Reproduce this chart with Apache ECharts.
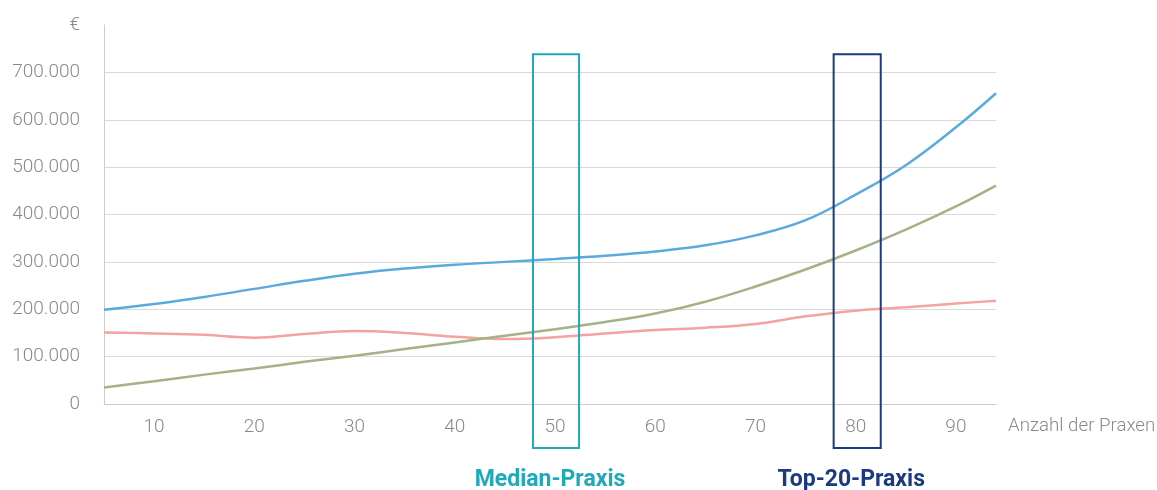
<!DOCTYPE html>
<html>
<head>
<meta charset="utf-8">
<script src="https://cdn.jsdelivr.net/npm/echarts@6/dist/echarts.min.js"></script>
<style>
html,body{margin:0;padding:0;background:#fff;}
#c{width:1157px;height:490px;}
</style>
</head>
<body>
<div id="c"></div>
<script>
// Anzahl der Praxen (x values)
const xValues = [5, 10, 15, 20, 25, 30, 35, 40, 45, 50, 55, 60, 65, 70, 75, 80, 85, 90, 94];
// Series values (€)
const blueValues  = [199000, 211000, 226000, 243000, 260000, 275000, 286000, 294000, 300000, 306000, 313000, 322000, 335000, 356000, 388000, 442000, 504000, 584000, 656000];
const greenValues = [35000, 48000, 62000, 75000, 89000, 102000, 116000, 130000, 144000, 158000, 173000, 191000, 216000, 248000, 284000, 324000, 368000, 417000, 461000];
const redValues   = [151000, 149000, 146000, 140000, 148000, 154000, 150000, 142000, 137000, 141000, 149000, 156000, 161000, 169000, 185000, 197000, 204000, 212000, 218000];
// x tick labels
const xTicks = [10, 20, 30, 40, 50, 60, 70, 80, 90];
// highlighted practices (data coordinates)
const markerNames = ['Median-Praxis', 'Top-20-Praxis'];
const markerFrom  = [47.8, 77.8];
const markerTo    = [52.4, 82.5];
const markerTop   = 738000;
const markerBottom = -93000;
const markerLabelY = -162000;
const markerColors = ['#1fa9b9', '#1b3a80'];

const toPairs = vals => xValues.map((x, i) => [x, vals[i]]);
const fmt = v => v === 800000 ? '€' : String(v).replace(/\B(?=(\d{3})+(?!\d))/g, '.');

const chart = echarts.init(document.getElementById('c'), null, {renderer: 'canvas'});
chart.setOption({
  animation: false,
  backgroundColor: '#fff',
  textStyle: {fontFamily: 'Roboto'},
  grid: {left: 104, right: 161, top: 25, bottom: 86, containLabel: false, outerBoundsMode: 'none'},
  xAxis: {
    type: 'value', min: 5, max: 94,
    name: 'Anzahl der Praxen',
    nameLocation: 'end', nameGap: 12,
    nameTextStyle: {color: '#8a8a8a', fontSize: 18.7, fontWeight: 300, fontFamily: 'Roboto', verticalAlign: 'top', lineHeight: 44},
    axisLine: {show: true, lineStyle: {color: '#cccccc', width: 1}},
    axisTick: {show: false},
    splitLine: {show: false},
    axisLabel: {customValues: xTicks, color: '#8a8a8a', fontSize: 19, fontWeight: 300, fontFamily: 'Roboto', margin: 14}
  },
  yAxis: {
    type: 'value', min: 0, max: 800000, interval: 100000,
    axisLine: {show: true, lineStyle: {color: '#cccccc', width: 1}},
    axisTick: {show: false},
    splitLine: {show: true, showMaxLine: false, showMinLine: false, lineStyle: {color: '#d9d9d9', width: 1}},
    axisLabel: {formatter: fmt, color: '#8a8a8a', fontSize: 19, fontWeight: 300, fontFamily: 'Roboto', margin: 24}
  },
  series: [
    {type: 'line', data: toPairs(redValues), smooth: 0.4, showSymbol: false, lineStyle: {color: '#f4a3a0', width: 2.5}},
    {type: 'line', data: toPairs(greenValues), smooth: 0.4, showSymbol: false, lineStyle: {color: '#a3b387', width: 2.5}},
    {type: 'line', data: toPairs(blueValues), smooth: 0.4, showSymbol: false, lineStyle: {color: '#5aaade', width: 2.5}},
    {
      type: 'custom', clip: false, silent: true, z: 5,
      data: markerNames.map((n, i) => [markerFrom[i], markerTo[i], i]),
      renderItem: (params, api) => {
        const i = api.value(2);
        const p0 = api.coord([api.value(0), markerTop]);
        const p1 = api.coord([api.value(1), markerBottom]);
        const pl = api.coord([(api.value(0) + api.value(1)) / 2, markerLabelY]);
        return {
          type: 'group',
          children: [
            {type: 'rect', shape: {x: p0[0], y: p0[1], width: p1[0] - p0[0], height: p1[1] - p0[1]},
             style: {fill: null, stroke: markerColors[i], lineWidth: 2}},
            {type: 'text', x: pl[0] - 6, y: pl[1],
             style: {text: markerNames[i], fill: markerColors[i], font: 'bold 23px Roboto', textAlign: 'center', textVerticalAlign: 'middle'}}
          ]
        };
      }
    }
  ]
});
</script>
</body>
</html>
